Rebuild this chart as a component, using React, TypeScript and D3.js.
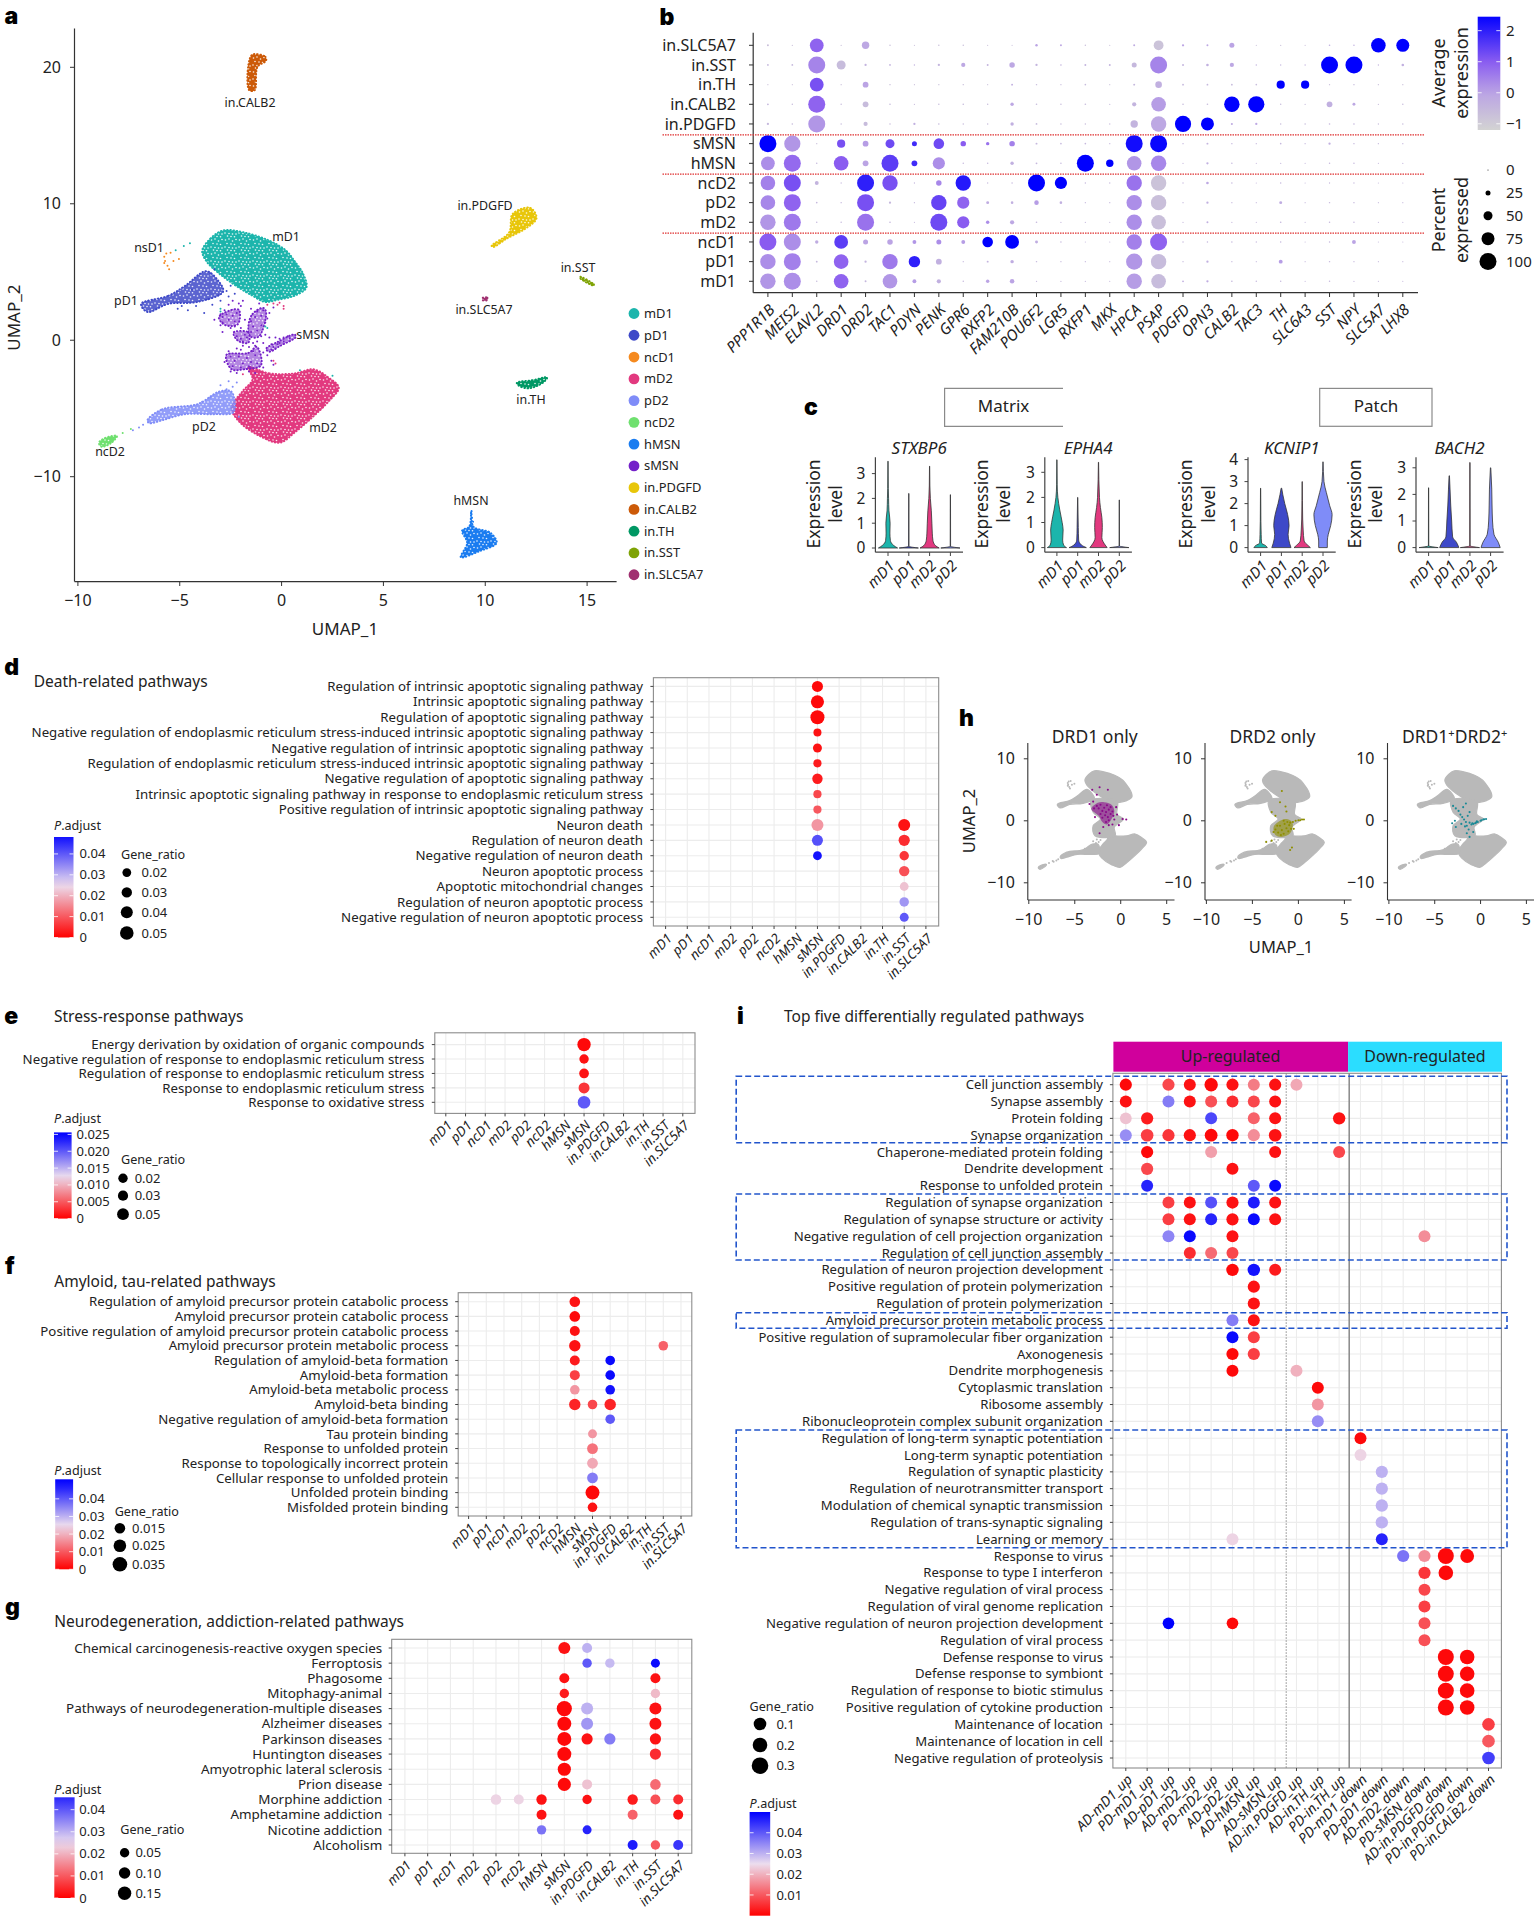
import React from "react";
import * as d3 from "d3";

// ---------- shared categories ----------
const cellTypes = ["mD1", "pD1", "ncD1", "mD2", "pD2", "ncD2", "hMSN", "sMSN", "in.PDGFD", "in.CALB2", "in.TH", "in.SST", "in.SLC5A7"];
const cellColors = ["#1CB5AC", "#3E49C8", "#F58A1F", "#E2397F", "#7F8CF8", "#6FE06F", "#1A7CF0", "#7421C9", "#E8C60A", "#CC5A08", "#009864", "#7FA305", "#A03070"];
const colorOf = (name: string) => cellColors[cellTypes.indexOf(name)];

// ---------- panel a: cluster outlines ----------
const mD1Outline = [[-3.9, 6.56], [-3.49, 7.46], [-2.87, 8.05], [-1.84, 7.9], [-0.6, 7.3], [0.23, 6.56], [0.64, 5.8], [1.05, 4.9], [1.22, 3.86], [0.64, 3.26], [-0.19, 2.96], [-0.8, 2.8], [-1.43, 3.26], [-2.25, 4.0], [-3.08, 4.9], [-3.7, 5.8]];
const mD2Outline = [[-1.63, -1.98], [-0.6, -2.43], [0.64, -2.43], [1.57, -2.13], [2.29, -2.72], [2.81, -3.47], [2.29, -4.52], [1.57, -5.57], [0.64, -6.77], [-0.08, -7.51], [-1.01, -7.07], [-2.05, -6.02], [-2.46, -4.97], [-1.94, -3.77], [-1.43, -2.87]];
const pD1Outline = [[-6.9, 2.66], [-5.56, 3.26], [-4.73, 4.0], [-3.7, 5.06], [-3.08, 4.31], [-2.87, 3.56], [-4.11, 2.81], [-5.56, 2.66], [-6.59, 2.07]];
const pD2Outline = [[-6.59, -5.87], [-5.87, -5.06], [-4.11, -4.67], [-3.08, -3.77], [-2.46, -3.77], [-2.36, -5.27], [-3.29, -5.42], [-4.73, -5.42], [-5.87, -5.87], [-6.49, -6.08]];
const ncD2Outline = [[-8.97, -7.51], [-8.66, -7.16], [-8.08, -7.01], [-8.35, -7.51], [-8.83, -7.81]];
const hMSNOutline = [[9.32, -12.46], [9.42, -13.65], [10.25, -14.1], [10.56, -14.85], [9.73, -15.45], [8.8, -15.9], [9.11, -14.85], [8.86, -13.95], [9.21, -13.65]];
const calb2Outline = [[-1.43, 20.93], [-0.8, 20.78], [-0.76, 20.48], [-1.18, 20.03], [-1.32, 18.32], [-1.59, 18.32], [-1.63, 20.18]];
const pdgfdOutline = [[10.31, 6.92], [11.17, 7.9], [11.34, 9.25], [12.21, 9.7], [12.52, 8.95], [12.0, 8.2], [11.07, 7.46], [10.39, 6.83]];
const sstOutline = [[14.65, 4.65], [15.33, 4.1], [15.33, 4.0], [14.65, 4.55]];
const slc5a7Outline = [[9.88, 3.12], [10.1, 3.12], [10.1, 2.95], [9.88, 2.92]];
const thOutline = [[11.55, -3.11], [12.31, -2.93], [13.04, -2.72], [12.84, -3.11], [12.11, -3.53], [11.63, -3.32]];
const sMSNBlobs = [
  [[-3.08, 1.68], [-2.46, 2.22], [-2.09, 2.22], [-2.15, 1.17], [-2.77, 1.11]],
  [[-1.63, 1.02], [-1.43, 1.92], [-0.91, 2.37], [-0.76, 2.07], [-1.12, 0.27], [-1.53, 0.27]],
  [[-2.36, 0.57], [-1.63, 0.57], [-1.63, -0.18], [-2.15, -0.03]],
  [[-2.71, -1.08], [-1.63, -0.93], [-1.22, -0.48], [-1.01, -1.83], [-1.84, -2.13], [-2.46, -2.13]],
  [[-0.76, -0.63], [-0.19, -0.12], [0.64, 0.42], [0.7, 0.24], [-0.08, -0.42], [-0.6, -0.84]],
];
const sMSNSparse = [[-3.0, 1.9], [-2.9, 1.3], [-2.6, 2.6], [-2.5, 0.9], [-2.3, 1.0], [-2.4, 2.9], [-2.0, 2.5], [-1.9, 2.9], [-1.8, 1.5], [-2.0, 0.9], [-1.7, 0.2], [-1.4, -0.2], [-1.2, -0.1], [-1.0, 0.3], [-0.8, 0.4], [-0.6, 0.2], [-0.3, 0.2], [-0.1, 0.1], [0.1, 0.2], [-0.5, -0.3], [-1.9, -0.4], [-2.0, -0.7], [-1.6, -0.5], [-1.3, -0.4], [-2.2, -0.6], [-2.6, -0.8], [-0.9, -0.9], [-0.7, -1.1], [-0.5, -1.5], [-2.8, -1.6], [-2.5, -2.3], [-2.2, -2.4], [-0.9, -2.0], [-1.6, -2.3], [-1.3, -2.4], [-0.4, -1.8], [-0.8, 1.3], [-0.6, 2.0], [-0.4, 2.4], [-1.1, 2.7], [-2.8, 2.2], [-3.3, 1.5], [-2.9, 0.6], [0.3, 0.3], [-1.0, 1.1], [-0.9, -0.2],
  [-2.9, 1.7], [-2.7, 1.9], [-2.6, 1.5], [-2.4, 1.8], [-2.3, 1.4], [-2.2, 2.0], [-1.5, 1.4], [-1.4, 1.0], [-1.3, 1.7], [-1.2, 2.1], [-1.0, 1.8], [-0.9, 2.2], [-1.2, 0.7], [-1.5, 0.6], [-2.2, 0.3], [-2.0, 0.1], [-1.8, 0.4], [-1.9, -0.1], [-2.5, -1.2], [-2.3, -1.5], [-2.1, -1.2], [-1.9, -1.7], [-1.7, -1.3], [-1.5, -1.6], [-1.3, -1.1], [-1.2, -1.7], [-1.4, -0.8], [-2.4, -1.9], [-2.0, -2.0], [-1.6, -1.9], [-0.5, -0.7], [-0.2, -0.3], [0.1, -0.1], [0.4, 0.15], [-0.4, -0.5], [-0.1, -0.2], [-3.0, 1.1], [-1.5, 2.3], [-2.1, 2.7], [-0.7, 1.6]];
const pD1Sparse = [[-4.6, 2.2], [-4.2, 2.5], [-3.8, 2.0], [-3.4, 2.6], [-3.0, 2.9], [-2.6, 3.2], [-2.3, 3.4], [-3.5, 4.9], [-3.3, 5.2], [-4.4, 3.7], [-5.1, 2.3], [-2.5, 4.0], [-2.7, 3.6], [-3.1, 3.3], [-3.6, 3.0], [-4.9, 2.5]];
const mD2Sparse = [[-0.7, 2.6], [-0.4, 2.7], [-0.1, 2.75], [0.1, 2.5], [0.1, 2.3], [-0.2, 2.6], [-0.4, -1.5], [-0.3, -1.7], [-1.9, -2.5], [-1.2, -2.2]];
const pD2Sparse = [[-2.4, -3.4], [-2.7, -3.6], [-3.0, -3.3], [-3.5, -4.2], [-3.9, -4.5], [-6.8, -6.2], [-7.0, -6.4], [-7.3, -6.6], [-2.2, -3.1], [-2.6, -3.0], [-2.1, -5.6]];
const ncD2Sparse = [[-7.8, -6.8], [-7.4, -6.5]];
const ncD1Sparse = [[-5.76, 6.11], [-5.66, 6.35], [-5.45, 6.41], [-5.72, 5.81], [-5.6, 5.45], [-5.52, 5.21], [-5.31, 5.81], [-5.04, 5.96], [-5.76, 5.66]];
const mD1Sparse = [[-5.2, 6.6], [-4.8, 6.9], [-4.5, 7.1], [-3.0, 2.1], [-0.8, 1.0], [-0.7, 0.9], [0.9, -2.2], [2.5, -2.6], [-3.0, 2.3]];
const hMSNSparse = [[9.3, -12.7], [9.35, -13.0], [9.4, -13.3]];
const centreOutline = [[-3.2, 3.3], [-0.4, 3.1], [-0.4, 1.0], [0.3, 0.3], [-0.7, -1], [-0.6, -2.4], [-2.8, -2.4], [-3, -0.8], [-2.2, 0.3], [-3, 1.4]];
const clusterLabels = ["in.CALB2", "in.PDGFD", "mD1", "nsD1", "pD1", "in.SST", "in.SLC5A7", "sMSN", "in.TH", "pD2", "mD2", "ncD2", "hMSN"];
const umapXTicks = [-10, -5, 0, 5, 10, 15];
const umapYTicks = [-10, 0, 10, 20];

// ---------- panel b ----------
const dotGenes = ["PPP1R1B", "MEIS2", "ELAVL2", "DRD1", "DRD2", "TAC1", "PDYN", "PENK", "GPR6", "RXFP2", "FAM210B", "POU6F2", "LGR5", "RXFP1", "MKX", "HPCA", "PSAP", "PDGFD", "OPN3", "CALB2", "TAC3", "TH", "SLC6A3", "SST", "NPY", "SLC5A7", "LHX8"];
const dotRows = ["in.SLC5A7", "in.SST", "in.TH", "in.CALB2", "in.PDGFD", "sMSN", "hMSN", "ncD2", "pD2", "mD2", "ncD1", "pD1", "mD1"];
const pctExpressed = [
  [6, 2, 80, 2, 40, 3, 1, 3, 3, 1, 1, 9, 6, 3, 1, 6, 55, 8, 6, 25, 1, 2, 1, 4, 3, 85, 75],
  [5, 5, 100, 50, 8, 5, 3, 8, 20, 6, 28, 8, 4, 6, 6, 25, 100, 6, 10, 20, 3, 2, 2, 100, 100, 2, 10],
  [1, 1, 80, 2, 30, 3, 1, 2, 3, 1, 6, 3, 2, 4, 1, 6, 35, 5, 5, 5, 4, 45, 45, 2, 3, 2, 2],
  [5, 3, 100, 3, 30, 4, 2, 3, 4, 3, 15, 4, 3, 4, 2, 20, 85, 4, 4, 90, 95, 3, 2, 30, 12, 2, 3],
  [8, 4, 100, 3, 20, 3, 8, 4, 3, 3, 15, 5, 3, 3, 2, 40, 90, 95, 75, 7, 8, 3, 3, 4, 4, 2, 3],
  [100, 95, 2, 45, 30, 50, 25, 60, 28, 15, 28, 6, 4, 4, 2, 100, 100, 3, 6, 3, 2, 4, 2, 8, 3, 2, 2],
  [80, 100, 3, 85, 30, 100, 30, 70, 3, 3, 15, 5, 3, 100, 40, 85, 90, 2, 8, 3, 1, 2, 1, 3, 3, 1, 2],
  [85, 100, 18, 2, 100, 90, 2, 28, 90, 2, 3, 100, 70, 3, 2, 90, 90, 2, 10, 3, 1, 3, 1, 2, 2, 1, 1],
  [85, 100, 4, 3, 100, 8, 2, 90, 70, 12, 10, 22, 10, 2, 2, 90, 90, 2, 8, 2, 1, 12, 1, 3, 3, 1, 1],
  [90, 100, 3, 3, 100, 4, 1, 100, 70, 15, 20, 4, 2, 2, 1, 90, 85, 2, 6, 2, 1, 4, 1, 3, 3, 1, 1],
  [100, 100, 15, 80, 25, 28, 18, 25, 18, 60, 80, 12, 3, 1, 1, 90, 100, 3, 3, 3, 2, 3, 1, 3, 18, 1, 1],
  [90, 100, 5, 85, 8, 90, 65, 30, 2, 6, 15, 3, 2, 2, 1, 95, 90, 2, 8, 2, 1, 18, 1, 3, 2, 1, 1],
  [90, 100, 3, 85, 6, 85, 18, 20, 3, 15, 22, 2, 2, 2, 1, 90, 85, 5, 8, 4, 3, 3, 1, 3, 2, 1, 1],
];
const avgExpression = [
  [-0.7, -0.7, 0.9, -0.7, -0.1, -0.7, -0.7, -0.7, -0.7, -0.7, -0.7, 0, -0.1, -0.7, -0.7, -0.2, -0.8, 0, -0.1, 0, -0.7, -0.7, -0.7, -0.3, -0.3, 2.5, 2.5],
  [-0.5, -0.5, 0.45, -0.6, -0.4, -0.4, -0.4, -0.4, -0.1, -0.4, -0.1, -0.4, -0.4, -0.4, -0.4, -0.5, 0.45, -0.4, -0.3, -0.1, -0.4, -0.4, -0.4, 2.5, 2.5, -0.4, -0.3],
  [-0.7, -0.7, 1.2, -0.7, 0, -0.7, -0.7, -0.7, -0.7, -0.7, -0.3, -0.6, -0.6, -0.6, -0.7, -0.5, -0.3, -0.5, -0.5, -0.6, -0.6, 2.5, 2.5, -0.7, -0.6, -0.7, -0.7],
  [-0.5, -0.6, 0.9, -0.6, -0.6, -0.6, -0.6, -0.6, -0.6, -0.6, -0.1, -0.6, -0.6, -0.6, -0.6, -0.4, 0.1, -0.6, -0.6, 2.5, 2.5, -0.6, -0.6, -0.3, -0.1, -0.6, -0.6],
  [-0.5, -0.6, 0.2, -0.6, -0.6, -0.6, -0.3, -0.6, -0.6, -0.6, -0.3, -0.6, -0.6, -0.6, -0.6, -0.4, -0.1, 2.5, 2.5, -0.2, -0.1, -0.6, -0.6, -0.5, -0.5, -0.6, -0.6],
  [2.5, 0.2, -0.7, 1.2, 0.1, 1.3, 1.8, 1.3, 1, 0.7, 0.5, -0.5, -0.5, -0.5, -0.5, 2.3, 2.4, -0.5, -0.4, -0.5, -0.5, -0.5, -0.5, -0.3, -0.5, -0.5, -0.5],
  [0.3, 0.8, -0.5, 1, 0, 1.5, 1.8, 0.3, -0.5, -0.5, -0.3, -0.5, -0.5, 2.5, 2.5, 0.2, 0.4, -0.5, -0.3, -0.5, -0.5, -0.5, -0.5, -0.5, -0.5, -0.5, -0.5],
  [0.5, 1.2, -0.4, -0.5, 2, 1.2, -0.5, 0.4, 2.1, -0.5, -0.5, 2.5, 2.5, -0.5, -0.5, 0.7, -0.8, -0.5, -0.1, -0.5, -0.5, -0.5, -0.5, -0.5, -0.5, -0.5, -0.5],
  [0.4, 0.9, -0.5, -0.5, 1.2, -0.5, -0.5, 1.4, 0.9, -0.2, -0.3, 0.1, -0.3, -0.5, -0.5, 0.3, -0.7, -0.5, -0.3, -0.5, -0.5, -0.2, -0.5, -0.5, -0.5, -0.5, -0.5],
  [0.2, 0.6, -0.5, -0.5, 0.7, -0.5, -0.5, 1.3, 1, 0.3, -0.1, -0.5, -0.5, -0.5, -0.5, 0.3, -0.7, -0.5, -0.3, -0.5, -0.5, -0.5, -0.5, -0.5, -0.5, -0.5, -0.5],
  [1, 0.3, -0.2, 1.5, 0, 0, 0.2, 0.3, 0.1, 2.5, 2.5, -0.2, -0.5, -0.5, -0.5, 0.5, 0.9, -0.5, -0.5, -0.5, -0.5, -0.5, -0.5, -0.5, 0, -0.5, -0.5],
  [0.3, 0.5, -0.5, 0.9, -0.4, 0.6, 2, -0.3, -0.5, -0.4, -0.2, -0.5, -0.5, -0.5, -0.5, 0.2, -0.6, -0.5, -0.3, -0.5, -0.5, 0.1, -0.5, -0.5, -0.5, -0.5, -0.5],
  [0.2, 0.3, -0.6, 0.9, -0.5, 0.2, 0.1, -0.3, -0.5, 0, 0, -0.5, -0.5, -0.5, -0.5, 0.1, -0.6, -0.3, -0.2, -0.5, -0.5, -0.5, -0.5, -0.5, -0.5, -0.5, -0.5],
];
const avgTicks = [-1, 0, 1, 2];
const pctTicks = [0, 25, 50, 75, 100];
const rowSeparators = ["in.PDGFD", "hMSN", "mD2"];

// ---------- panel c: violin profiles, [expression, relative half width] ----------
const violinCats = ["mD1", "pD1", "mD2", "pD2"];
const stxbp6Profile = [
  [[0, 1], [0.1, 0.6], [0.3, 0.25], [0.6, 0.2], [1, 0.22], [1.5, 0.1], [2, 0.06], [2.4, 0.03], [3.5, 0.01]],
  [[0, 1], [0.03, 0.4], [0.06, 0.02], [2.2, 0.01]],
  [[0, 1], [0.1, 0.6], [0.3, 0.35], [0.6, 0.28], [1, 0.24], [1.5, 0.18], [2, 0.08], [2.5, 0.03], [3.3, 0.01]],
  [[0, 1], [0.03, 0.4], [0.06, 0.02], [2.15, 0.01]],
];
const epha4Profile = [
  [[0, 1], [0.1, 0.7], [0.3, 0.6], [0.7, 0.65], [1, 0.55], [1.5, 0.3], [2, 0.1], [2.5, 0.03], [3.5, 0.01]],
  [[0, 0.9], [0.1, 0.4], [0.3, 0.1], [0.8, 0.06], [2, 0.01]],
  [[0, 0.9], [0.1, 0.7], [0.4, 0.35], [0.8, 0.4], [1.2, 0.35], [1.6, 0.2], [2, 0.1], [3.4, 0.01]],
  [[0, 1], [0.03, 0.4], [0.06, 0.02], [1.9, 0.01]],
];
const kcnip1Profile = [
  [[0, 0.7], [0.1, 0.5], [0.2, 0.1], [0.6, 0.06], [1.2, 0.03], [2.7, 0.01]],
  [[0, 1], [0.2, 0.85], [0.6, 0.7], [1, 0.8], [1.5, 0.65], [2, 0.35], [2.4, 0.15], [2.7, 0.03]],
  [[0, 0.85], [0.1, 0.6], [0.3, 0.2], [0.8, 0.1], [1.3, 0.05], [3, 0.01]],
  [[0, 0.45], [0.3, 0.45], [0.6, 0.55], [1, 0.8], [1.5, 0.95], [1.9, 0.7], [2.5, 0.35], [3, 0.1], [3.9, 0.01]],
];
const bach2Profile = [
  [[0, 1], [0.03, 0.4], [0.06, 0.02], [2.25, 0.01]],
  [[0, 1], [0.2, 0.75], [0.4, 0.35], [1, 0.25], [1.6, 0.15], [2.2, 0.08], [2.7, 0.02]],
  [[0, 1], [0.03, 0.4], [0.06, 0.02], [3.2, 0.01]],
  [[0, 1], [0.2, 0.8], [0.5, 0.35], [1, 0.2], [1.6, 0.15], [2.2, 0.12], [3, 0.02]],
];

// ---------- panel d ----------
const deathPathways = ["Regulation of intrinsic apoptotic signaling pathway", "Intrinsic apoptotic signaling pathway", "Regulation of apoptotic signaling pathway", "Negative regulation of endoplasmic reticulum stress-induced intrinsic apoptotic signaling pathway", "Negative regulation of intrinsic apoptotic signaling pathway", "Regulation of endoplasmic reticulum stress-induced intrinsic apoptotic signaling pathway", "Negative regulation of apoptotic signaling pathway", "Intrinsic apoptotic signaling pathway in response to endoplasmic reticulum stress", "Positive regulation of intrinsic apoptotic signaling pathway", "Neuron death", "Regulation of neuron death", "Negative regulation of neuron death", "Neuron apoptotic process", "Apoptotic mitochondrial changes", "Regulation of neuron apoptotic process", "Negative regulation of neuron apoptotic process"];
// [pathway index, cell type, gene ratio, adjusted p]
const deathDots: [number, string, number, number][] = [
  [0, "sMSN", 0.034, 0.001], [1, "sMSN", 0.047, 0.001], [2, "sMSN", 0.053, 0.001], [3, "sMSN", 0.015, 0.002], [4, "sMSN", 0.021, 0.002], [5, "sMSN", 0.016, 0.003], [6, "sMSN", 0.03, 0.003], [7, "sMSN", 0.016, 0.008], [8, "sMSN", 0.016, 0.01], [9, "sMSN", 0.04, 0.017], [10, "sMSN", 0.034, 0.041], [11, "sMSN", 0.02, 0.048],
  [9, "in.SST", 0.04, 0.002], [10, "in.SST", 0.035, 0.005], [11, "in.SST", 0.024, 0.006], [12, "in.SST", 0.03, 0.009], [13, "in.SST", 0.02, 0.022], [14, "in.SST", 0.024, 0.033], [15, "in.SST", 0.021, 0.04],
];

// ---------- panel e ----------
const stressPathways = ["Energy derivation by oxidation of organic compounds", "Negative regulation of response to endoplasmic reticulum stress", "Regulation of response to endoplasmic reticulum stress", "Response to endoplasmic reticulum stress", "Response to oxidative stress"];
const stressDots: [number, string, number, number][] = [
  [0, "sMSN", 0.07, 0.0005], [1, "sMSN", 0.02, 0.001], [2, "sMSN", 0.024, 0.001], [3, "sMSN", 0.04, 0.003], [4, "sMSN", 0.06, 0.02],
];

// ---------- panel f ----------
const amyloidPathways = ["Regulation of amyloid precursor protein catabolic process", "Amyloid precursor protein catabolic process", "Positive regulation of amyloid precursor protein catabolic process", "Amyloid precursor protein metabolic process", "Regulation of amyloid-beta formation", "Amyloid-beta formation", "Amyloid-beta metabolic process", "Amyloid-beta binding", "Negative regulation of amyloid-beta formation", "Tau protein binding", "Response to unfolded protein", "Response to topologically incorrect protein", "Cellular response to unfolded protein", "Unfolded protein binding", "Misfolded protein binding"];
const amyloidDots: [number, string, number, number][] = [
  [0, "hMSN", 0.015, 0.002], [1, "hMSN", 0.015, 0.001], [2, "hMSN", 0.012, 0.002], [3, "hMSN", 0.019, 0.002], [4, "hMSN", 0.012, 0.003], [5, "hMSN", 0.012, 0.007], [6, "hMSN", 0.01, 0.017], [7, "hMSN", 0.019, 0.004],
  [7, "sMSN", 0.01, 0.008], [9, "sMSN", 0.007, 0.017], [10, "sMSN", 0.016, 0.013], [11, "sMSN", 0.016, 0.019], [12, "sMSN", 0.016, 0.036], [13, "sMSN", 0.032, 0.001], [14, "sMSN", 0.01, 0.002],
  [4, "in.PDGFD", 0.01, 0.049], [5, "in.PDGFD", 0.01, 0.049], [6, "in.PDGFD", 0.01, 0.048], [7, "in.PDGFD", 0.019, 0.004], [8, "in.PDGFD", 0.01, 0.04],
  [3, "in.SST", 0.01, 0.011],
];

// ---------- panel g ----------
const neuroPathways = ["Chemical carcinogenesis-reactive oxygen species", "Ferroptosis", "Phagosome", "Mitophagy-animal", "Pathways of neurodegeneration-multiple diseases", "Alzheimer diseases", "Parkinson diseases", "Huntington diseases", "Amyotrophic lateral sclerosis", "Prion disease", "Morphine addiction", "Amphetamine addiction", "Nicotine addiction", "Alcoholism"];
const neuroDots: [number, string, number, number][] = [
  [0, "sMSN", 0.115, 0.002], [0, "in.PDGFD", 0.065, 0.03],
  [1, "in.PDGFD", 0.05, 0.04], [1, "in.CALB2", 0.05, 0.029], [1, "in.SST", 0.04, 0.049],
  [2, "sMSN", 0.065, 0.002], [2, "in.SST", 0.065, 0.002],
  [3, "sMSN", 0.05, 0.003], [3, "in.SST", 0.05, 0.021],
  [4, "sMSN", 0.195, 0.001], [4, "in.PDGFD", 0.115, 0.03], [4, "in.SST", 0.115, 0.002],
  [5, "sMSN", 0.165, 0.001], [5, "in.PDGFD", 0.115, 0.033], [5, "in.SST", 0.115, 0.002],
  [6, "sMSN", 0.165, 0.001], [6, "in.PDGFD", 0.095, 0.002], [6, "in.CALB2", 0.095, 0.036], [6, "in.SST", 0.095, 0.002],
  [7, "sMSN", 0.165, 0.001], [7, "in.SST", 0.095, 0.005],
  [8, "sMSN", 0.145, 0.001],
  [9, "sMSN", 0.145, 0.001], [9, "in.PDGFD", 0.065, 0.022], [9, "in.SST", 0.08, 0.012],
  [10, "pD2", 0.08, 0.024], [10, "ncD2", 0.065, 0.024], [10, "hMSN", 0.075, 0.002], [10, "in.PDGFD", 0.05, 0.002], [10, "in.TH", 0.075, 0.003], [10, "in.SST", 0.065, 0.009], [10, "in.SLC5A7", 0.065, 0.005],
  [11, "hMSN", 0.065, 0.002], [11, "in.TH", 0.065, 0.011], [11, "in.SLC5A7", 0.065, 0.002],
  [12, "hMSN", 0.05, 0.037], [12, "in.PDGFD", 0.04, 0.046],
  [13, "in.TH", 0.065, 0.047], [13, "in.SST", 0.05, 0.01], [13, "in.SLC5A7", 0.065, 0.044],
];

// ---------- panel h: points on top of the grey map ----------
const drd1Blob = [[-3.2, 1.9], [-2.5, 2.9], [-1.8, 3.0], [-1.0, 2.6], [-0.7, 1.6], [-1.0, 0.3], [-1.5, -0.6], [-2.0, -0.2], [-2.4, 0.8]];
const drd1Points = [[-3.1, 5], [-2.3, 5.4], [-1.4, 5], [-2.6, 4.2], [-0.7, 0.2], [0.6, 0.2], [-0.2, -0.7], [-1.3, -0.7], [-2.3, -2], [-3.4, 2.7], [-3.0, 3.1], [-0.5, 2.2], [-0.4, 1.0], [0.2, 0.3], [-0.9, -0.6], [-1.9, -1.0], [-2.8, 0.6],
  [-2.9, 2.0], [-2.6, 2.4], [-2.4, 2.0], [-2.2, 2.6], [-2.0, 1.6], [-1.8, 2.1], [-1.6, 1.4], [-1.5, 2.5], [-1.3, 1.8], [-1.1, 2.2], [-1.1, 1.1], [-1.4, 0.6], [-1.7, 0.9], [-2.2, 1.1], [-0.9, 1.5], [-1.6, -0.2], [-1.3, 0.1], [-0.8, 0.8], [-2.0, 0.5]];
const drd2Blob = [[-2.7, -1.0], [-2.2, -0.2], [-1.5, 0.3], [-0.9, 0.1], [-0.6, -0.6], [-0.9, -2.0], [-1.8, -2.6], [-2.5, -2.3]];
const drd2Points = [[-0.9, -0.3], [-0.6, -0.2], [-0.3, 0], [0, 0.1], [0.2, 0.1], [0.4, 0.2], [0.6, 0.2], [-1.8, 4.8], [-2, 3], [-2.9, 1.4], [-2.5, 0.8], [-1.3, 1.5], [-3.5, -3.4], [-0.9, -4.7], [-0.7, -4.3], [-2.9, -3.2], [-0.5, -1.3], [-1.4, 2.3],
  [-2.5, -1.4], [-2.2, -1.9], [-2.0, -0.8], [-1.8, -1.5], [-1.6, -2.1], [-1.5, -0.5], [-1.3, -1.2], [-1.1, -1.7], [-1.0, -0.7], [-2.3, -0.8], [-1.9, -2.3], [-1.6, 0], [-1.2, -0.2], [-0.8, -1.3], [-2.7, -1.8]];
const bothPoints = [[-3, 2.4], [-2.7, 2.0], [-2.4, 1.6], [-2.2, 1.0], [-2.0, 0.6], [-1.8, 0.2], [-1.6, -0.2], [-1.5, -0.8], [-1.3, -1.4], [-1.5, -2.0], [-1.0, -0.6], [-0.6, -0.4], [-0.3, -0.2], [0, 0], [0.3, 0.2], [0.6, 0.3], [-1.2, -0.3], [-0.8, -0.5], [-0.5, -0.3], [-2.8, 0], [-3.1, -0.4], [-2.7, -1.0], [-1.2, 1.4], [-1.6, 2.8], [-1.9, 2.2], [-1.4, 0.8], [-1.7, -0.9], [-1.2, -2.6], [-0.8, -1.8], [-2.1, -0.5], [-0.9, -0.4], [-0.4, -0.1], [0.1, 0.1], [0.4, 0.25]];
const hXTicks = [-10, -5, 0, 5];
const hYTicks = [-10, 0, 10];

// ---------- panel i ----------
const diffPathways = ["Cell junction assembly", "Synapse assembly", "Protein folding", "Synapse organization", "Chaperone-mediated protein folding", "Dendrite development", "Response to unfolded protein", "Regulation of synapse organization", "Regulation of synapse structure or activity", "Negative regulation of cell projection organization", "Regulation of cell junction assembly", "Regulation of neuron projection development", "Positive regulation of protein polymerization", "Regulation of protein polymerization", "Amyloid precursor protein metabolic process", "Positive regulation of supramolecular fiber organization", "Axonogenesis", "Dendrite morphogenesis", "Cytoplasmic translation", "Ribosome assembly", "Ribonucleoprotein complex subunit organization", "Regulation of long-term synaptic potentiation", "Long-term synaptic potentiation", "Regulation of synaptic plasticity", "Regulation of neurotransmitter transport", "Modulation of chemical synaptic transmission", "Regulation of trans-synaptic signaling", "Learning or memory", "Response to virus", "Response to type I interferon", "Negative regulation of viral process", "Regulation of viral genome replication", "Negative regulation of neuron projection development", "Regulation of viral process", "Defense response to virus", "Defense response to symbiont", "Regulation of response to biotic stimulus", "Positive regulation of cytokine production", "Maintenance of location", "Maintenance of location in cell", "Negative regulation of proteolysis"];
const diffGroups = ["AD-mD1_up", "PD-mD1_up", "AD-pD1_up", "AD-mD2_up", "PD-mD2_up", "AD-pD2_up", "AD-hMSN_up", "AD-sMSN_up", "AD-in.PDGFD_up", "AD-in.TH_up", "PD-in.TH_up", "PD-mD1_down", "PD-pD1_down", "AD-mD2_down", "PD-sMSN_down", "AD-in.PDGFD_down", "PD-in.PDGFD_down", "PD-in.CALB2_down"];
// [pathway index, group index, gene ratio, adjusted p]
const diffDotsRaw = [
  [0, 0, 0.08, 0.001], [0, 2, 0.08, 0.008], [0, 3, 0.07, 0.002], [0, 4, 0.14, 0.001], [0, 5, 0.08, 0.002], [0, 6, 0.07, 0.014], [0, 7, 0.08, 0.002], [0, 8, 0.07, 0.019],
  [1, 0, 0.07, 0.002], [1, 2, 0.07, 0.036], [1, 3, 0.07, 0.002], [1, 4, 0.07, 0.009], [1, 5, 0.07, 0.005], [1, 6, 0.07, 0.008], [1, 7, 0.07, 0.002],
  [2, 0, 0.06, 0.022], [2, 1, 0.08, 0.003], [2, 4, 0.07, 0.042], [2, 6, 0.07, 0.011], [2, 7, 0.07, 0.002], [2, 10, 0.09, 0.002],
  [3, 0, 0.07, 0.034], [3, 1, 0.1, 0.007], [3, 2, 0.08, 0.006], [3, 3, 0.08, 0.002], [3, 4, 0.11, 0.001], [3, 5, 0.09, 0.001], [3, 6, 0.08, 0.016], [3, 7, 0.1, 0.002],
  [4, 1, 0.08, 0.001], [4, 4, 0.07, 0.018], [4, 7, 0.07, 0.002], [4, 10, 0.07, 0.008],
  [5, 1, 0.08, 0.008], [5, 5, 0.07, 0.002],
  [6, 1, 0.07, 0.046], [6, 6, 0.07, 0.04], [6, 7, 0.07, 0.049],
  [7, 2, 0.07, 0.007], [7, 3, 0.07, 0.002], [7, 4, 0.07, 0.041], [7, 5, 0.08, 0.002], [7, 6, 0.07, 0.047], [7, 7, 0.07, 0.002],
  [8, 2, 0.07, 0.007], [8, 3, 0.07, 0.002], [8, 4, 0.07, 0.046], [8, 5, 0.08, 0.002], [8, 6, 0.07, 0.049], [8, 7, 0.07, 0.002],
  [9, 2, 0.07, 0.035], [9, 3, 0.07, 0.049], [9, 5, 0.07, 0.002], [9, 14, 0.07, 0.016],
  [10, 3, 0.07, 0.005], [10, 4, 0.07, 0.012], [10, 5, 0.07, 0.008],
  [11, 5, 0.09, 0.001], [11, 6, 0.09, 0.048], [11, 7, 0.07, 0.003],
  [12, 6, 0.08, 0.002], [13, 6, 0.08, 0.002],
  [14, 5, 0.07, 0.036], [14, 6, 0.07, 0.002],
  [15, 5, 0.07, 0.049], [15, 6, 0.07, 0.007],
  [16, 5, 0.08, 0.001], [16, 6, 0.08, 0.007],
  [17, 5, 0.07, 0.001], [17, 8, 0.07, 0.02],
  [18, 9, 0.07, 0.001], [19, 9, 0.07, 0.017], [20, 9, 0.07, 0.034],
  [21, 11, 0.07, 0.001], [22, 11, 0.07, 0.024],
  [23, 12, 0.08, 0.03], [24, 12, 0.08, 0.03], [25, 12, 0.09, 0.03], [26, 12, 0.09, 0.03],
  [27, 5, 0.07, 0.024], [27, 12, 0.07, 0.046],
  [28, 13, 0.08, 0.037], [28, 14, 0.08, 0.016], [28, 15, 0.27, 0.001], [28, 16, 0.16, 0.001],
  [29, 14, 0.08, 0.006], [29, 15, 0.2, 0.001],
  [30, 14, 0.07, 0.008], [31, 14, 0.07, 0.007],
  [32, 2, 0.05, 0.05], [32, 5, 0.05, 0.001], [32, 14, 0.07, 0.009],
  [33, 14, 0.07, 0.009],
  [34, 15, 0.27, 0.001], [34, 16, 0.2, 0.001], [35, 15, 0.27, 0.001], [35, 16, 0.2, 0.001], [36, 15, 0.27, 0.001], [36, 16, 0.2, 0.001], [37, 15, 0.27, 0.001], [37, 16, 0.2, 0.001],
  [38, 17, 0.1, 0.007], [39, 17, 0.1, 0.01], [40, 17, 0.1, 0.043],
];

// ---------- helpers ----------
const FONT = "'Noto Sans', Roboto, sans-serif";
const INK = "#222";
const px = (n: number) => +n.toFixed(2);

const T = ({ x, y, a = "start", s = 13, rot, it, w, fill = INK, children }: any) => (
  <text
    transform={rot ? `translate(${px(x)},${px(y)}) rotate(${rot})` : undefined}
    x={rot ? 0 : px(x)}
    y={rot ? 0 : px(y)}
    dy="0.35em"
    textAnchor={a}
    fontSize={s}
    fontStyle={it ? "italic" : undefined}
    fontWeight={w}
    fill={fill}
  >
    {children}
  </text>
);

const PanelLetter = ({ x, y, children }: any) => (
  <text x={x} y={y} fontFamily="Inter, sans-serif" fontWeight={900} fontSize={23} fill="#000">
    {children}
  </text>
);

const blobPath = d3.line().curve(d3.curveCatmullRomClosed.alpha(0.5));

const pAdjustColor = (pMax: number) =>
  d3.scaleLinear<string>().domain([0, pMax / 2, pMax]).range(["#ff0000", "#ECDDEE", "#0000ff"]).clamp(true);

const ColorBar = ({ id, x, w, top, bottom, scale, domainMax, domainMin = 0, ticks, labelX, fmt, s = 13 }: any) => {
  const y = d3.scaleLinear().domain([domainMin, domainMax]).range([bottom, top]);
  const stops = d3.range(0, 1.0001, 0.1).map((t) => domainMin + t * (domainMax - domainMin));
  return (
    <g>
      <defs>
        <linearGradient id={id} x1="0" y1="1" x2="0" y2="0">
          {stops.map((v, i) => (
            <stop key={i} offset={`${i * 10}%`} stopColor={scale(v)} />
          ))}
        </linearGradient>
      </defs>
      <rect x={x} y={top} width={w} height={bottom - top} fill={`url(#${id})`} />
      {ticks.map((t: number) => (
        <g key={t}>
          <line x1={x} x2={x + 4} y1={y(t)} y2={y(t)} stroke="#fff" strokeWidth={0.8} />
          <line x1={x + w - 4} x2={x + w} y1={y(t)} y2={y(t)} stroke="#fff" strokeWidth={0.8} />
          <T x={labelX} y={y(t)} s={s}>{fmt ? fmt(t) : String(t)}</T>
        </g>
      ))}
    </g>
  );
};

const PADJ_TITLE = ({ x, y }: any) => (
  <text x={x} y={y} dy="0.35em" fontSize={12.6} fill={INK}>
    <tspan fontStyle="italic">P</tspan>.adjust
  </text>
);

const RatioLegend = ({ titleX, titleY, dotX, labelX, items, ys, rScale, digits }: any) => (
  <g>
    <T x={titleX} y={titleY} s={12.6}>Gene_ratio</T>
    {items.map((v: number, i: number) => (
      <g key={v}>
        <circle cx={dotX} cy={ys[i]} r={rScale(v)} fill="#000" />
        <T x={labelX} y={ys[i]} s={13}>{v.toFixed(digits)}</T>
      </g>
    ))}
  </g>
);

// enrichment dot plot shared by d, e, f, g and i
const EnrichPlot = ({ frame, colRange, rowRange, labelX, rows, cols, dots, color, rScale, labelSize = 13.25, tickSize = 13.4, tickEndY }: any) => {
  const x = d3.scalePoint<string>().domain(cols).range(colRange);
  const y = d3.scalePoint<number>().domain(rows.map((_: string, i: number) => i)).range(rowRange);
  return (
    <g>
      <rect x={frame.x0} y={frame.y0} width={frame.x1 - frame.x0} height={frame.y1 - frame.y0} fill="#fff" />
      {cols.map((c: string) => (
        <line key={c} x1={x(c)} x2={x(c)} y1={frame.y0} y2={frame.y1} stroke="#ececec" strokeWidth={1.1} />
      ))}
      {rows.map((_: string, i: number) => (
        <line key={i} x1={frame.x0} x2={frame.x1} y1={y(i)} y2={y(i)} stroke="#ececec" strokeWidth={1.1} />
      ))}
      <rect x={frame.x0} y={frame.y0} width={frame.x1 - frame.x0} height={frame.y1 - frame.y0} fill="none" stroke="#8c8c8c" strokeWidth={1.1} />
      {rows.map((r: string, i: number) => (
        <g key={r + i}>
          <line x1={frame.x0 - 3} x2={frame.x0} y1={y(i)} y2={y(i)} stroke="#444" />
          <T x={labelX} y={y(i)} a="end" s={labelSize}>{r}</T>
        </g>
      ))}
      {cols.map((c: string) => (
        <g key={c}>
          <line x1={x(c)} x2={x(c)} y1={frame.y1} y2={frame.y1 + 3} stroke="#444" />
          <T x={x(c)! + 4} y={tickEndY} a="end" s={tickSize} rot={-45} it>{c}</T>
        </g>
      ))}
      {dots.map((d: any, i: number) => (
        <circle key={i} cx={x(d[1])} cy={y(d[0])} r={rScale(d[2])} fill={color(d[3])} />
      ))}
    </g>
  );
};

// ---------- panel a ----------
const stippleIds = cellColors.map((_, i) => `stipple${i}`);
const SPECKS = [[1.5, 2], [5, 1], [8.5, 3], [12, 1.5], [3, 5.5], [7, 6], [10.5, 6.5], [1, 9], [5, 9.5], [8.5, 10], [12, 10], [3.5, 12], [7, 12.5], [10.5, 12.8]];

const UmapCluster = ({ x, y, outline, name, opacity = 1 }: any) => {
  const i = cellTypes.indexOf(name);
  const d = blobPath(outline.map((p: number[]) => [x(p[0]), y(p[1])]) as any)!;
  return (
    <g>
      <path d={d} fill={`url(#${stippleIds[i]})`} fillOpacity={opacity} />
      <path d={d} fill="none" stroke={cellColors[i]} strokeWidth={1.9} strokeDasharray="0.5 2.7" strokeLinecap="round" />
    </g>
  );
};

const Sparse = ({ x, y, points, fill, r = 1 }: any) => (
  <g fill={fill}>
    {points.map((p: number[], i: number) => (
      <circle key={i} cx={x(p[0])} cy={y(p[1])} r={r} />
    ))}
  </g>
);

const labelSpots: Record<string, [number, number]> = {
  "in.CALB2": [250, 103], "in.PDGFD": [485, 206], mD1: [286, 237], nsD1: [149, 248], pD1: [126, 301], "in.SST": [578, 268], "in.SLC5A7": [484, 310], sMSN: [313, 335], "in.TH": [531, 400], pD2: [204, 427], mD2: [323, 428], ncD2: [110, 452], hMSN: [471, 501],
};

const PanelA = () => {
  const x = d3.scaleLinear().domain([-10, 15]).range([77.9, 587.1]);
  const y = d3.scaleLinear().domain([-10, 20]).range([476.7, 67.3]);
  return (
    <g>
      <defs>
        {cellColors.map((c, i) => (
          <pattern key={c} id={stippleIds[i]} width={14} height={14} patternUnits="userSpaceOnUse">
            <rect width={14} height={14} fill={c} />
            {SPECKS.map((s, k) => (
              <circle key={k} cx={s[0]} cy={s[1]} r={0.8} fill="#fff" fillOpacity={0.9} />
            ))}
          </pattern>
        ))}
      </defs>
      <UmapCluster x={x} y={y} outline={mD1Outline} name="mD1" />
      <UmapCluster x={x} y={y} outline={mD2Outline} name="mD2" />
      <UmapCluster x={x} y={y} outline={pD1Outline} name="pD1" opacity={0.85} />
      <UmapCluster x={x} y={y} outline={pD2Outline} name="pD2" opacity={0.85} />
      <UmapCluster x={x} y={y} outline={ncD2Outline} name="ncD2" />
      <UmapCluster x={x} y={y} outline={hMSNOutline} name="hMSN" />
      <UmapCluster x={x} y={y} outline={calb2Outline} name="in.CALB2" />
      <UmapCluster x={x} y={y} outline={pdgfdOutline} name="in.PDGFD" />
      <UmapCluster x={x} y={y} outline={sstOutline} name="in.SST" />
      <UmapCluster x={x} y={y} outline={slc5a7Outline} name="in.SLC5A7" />
      <UmapCluster x={x} y={y} outline={thOutline} name="in.TH" />
      {sMSNBlobs.map((b, i) => (
        <UmapCluster key={i} x={x} y={y} outline={b} name="sMSN" opacity={0.55} />
      ))}
      <Sparse x={x} y={y} points={sMSNSparse} fill={colorOf("sMSN")} />
      <Sparse x={x} y={y} points={pD1Sparse} fill={colorOf("pD1")} />
      <Sparse x={x} y={y} points={mD2Sparse} fill={colorOf("mD2")} />
      <Sparse x={x} y={y} points={pD2Sparse} fill={colorOf("pD2")} />
      <Sparse x={x} y={y} points={ncD2Sparse} fill={colorOf("ncD2")} />
      <Sparse x={x} y={y} points={ncD1Sparse} fill={colorOf("ncD1")} />
      <Sparse x={x} y={y} points={mD1Sparse} fill={colorOf("mD1")} />
      <Sparse x={x} y={y} points={hMSNSparse} fill={colorOf("hMSN")} />
      <line x1={74.5} x2={74.5} y1={28.6} y2={581.6} stroke="#333" strokeWidth={1.2} />
      <line x1={74.5} x2={616.6} y1={581.6} y2={581.6} stroke="#333" strokeWidth={1.2} />
      {umapXTicks.map((t) => (
        <g key={t}>
          <line x1={x(t)} x2={x(t)} y1={581.6} y2={586} stroke="#333" />
          <T x={x(t)} y={600.8} a="middle" s={16}>{String(t).replace("-", "−")}</T>
        </g>
      ))}
      {umapYTicks.map((t) => (
        <g key={t}>
          <line x1={70} x2={74.5} y1={y(t)} y2={y(t)} stroke="#333" />
          <T x={61} y={y(t)} a="end" s={16}>{String(t).replace("-", "−")}</T>
        </g>
      ))}
      <T x={345} y={628.6} a="middle" s={17}>UMAP_1</T>
      <T x={14.3} y={317.6} a="middle" s={17} rot={-90}>UMAP_2</T>
      {clusterLabels.map((l) => (
        <T key={l} x={labelSpots[l][0]} y={labelSpots[l][1]} a="middle" s={12.4}>{l}</T>
      ))}
      {cellTypes.map((c, i) => (
        <g key={c}>
          <circle cx={634} cy={313.5 + i * 21.77} r={5.4} fill={cellColors[i]} />
          <T x={644} y={313.5 + i * 21.77} s={12.9}>{c}</T>
        </g>
      ))}
    </g>
  );
};

// ---------- panel b ----------
const PanelB = () => {
  const x = d3.scalePoint<string>().domain(dotGenes).range([767.9, 1402.8]);
  const y = d3.scalePoint<string>().domain(dotRows).range([45.3, 281.3]);
  const r = d3.scaleLinear().domain([0, 100]).range([0.5, 8.5]);
  const color = d3.scaleLinear<string>().domain([-1.2, 0, 1, 2.5]).range(["#D3D3D3", "#BBA4E4", "#8A5CF0", "#0000FF"]).clamp(true);
  const step = y.step();
  return (
    <g>
      <line x1={753.2} x2={753.2} y1={32.7} y2={292.7} stroke="#333" strokeWidth={1.2} />
      <line x1={753.2} x2={1418} y1={292.7} y2={292.7} stroke="#333" strokeWidth={1.2} />
      {dotRows.map((row) => (
        <g key={row}>
          <line x1={749} x2={753.2} y1={y(row)} y2={y(row)} stroke="#333" />
          <T x={736} y={y(row)} a="end" s={16}>{row}</T>
        </g>
      ))}
      {dotGenes.map((g) => (
        <g key={g}>
          <line x1={x(g)} x2={x(g)} y1={292.7} y2={297} stroke="#333" />
          <T x={x(g)! + 4} y={307} a="end" s={15.3} rot={-45} it>{g}</T>
        </g>
      ))}
      {dotRows.map((row, i) =>
        dotGenes.map((g, j) => (
          <circle key={g} cx={x(g)} cy={y(row)} r={r(pctExpressed[i][j])} fill={color(avgExpression[i][j])} />
        ))
      )}
      {rowSeparators.map((row) => (
        <line key={row} x1={662.5} x2={1424} y1={y(row)! + step / 2 + 1} y2={y(row)! + step / 2 + 1} stroke="#E03030" strokeWidth={1.2} strokeDasharray="1.5 1" />
      ))}
      <T x={1439} y={73} a="middle" s={18} rot={-90}>Average</T>
      <T x={1462} y={73} a="middle" s={18} rot={-90}>expression</T>
      <ColorBar id="avgExprBar" x={1477.7} w={22.6} top={16.7} bottom={130} scale={color} domainMin={-1.2} domainMax={2.45} ticks={avgTicks} labelX={1506} s={15} fmt={(t: number) => String(t).replace("-", "−")} />
      <T x={1439} y={220} a="middle" s={18} rot={-90}>Percent</T>
      <T x={1462} y={220} a="middle" s={18} rot={-90}>expressed</T>
      {pctTicks.map((t, i) => (
        <g key={t}>
          <circle cx={1488} cy={170 + i * 22.9} r={r(t)} fill="#000" />
          <T x={1506} y={170 + i * 22.9} s={15}>{String(t)}</T>
        </g>
      ))}
    </g>
  );
};

// ---------- panel c ----------
const violinArea = (y: any, cx: number) =>
  d3.area<number[]>().curve(d3.curveMonotoneY).y((d) => y(d[0])).x0((d) => cx - 9.6 * d[1]).x1((d) => cx + 9.6 * d[1]);

const Violin = ({ title, profile, axisX, axisEnd, zeroY, oneY, cats, ticks, labelXs }: any) => {
  const y = d3.scaleLinear().domain([0, 1]).range([zeroY, oneY]);
  const x = d3.scalePoint<string>().domain(violinCats).range(cats);
  return (
    <g>
      <T x={labelXs[0]} y={504} a="middle" s={17.5} rot={-90}>Expression</T>
      <T x={labelXs[1]} y={504} a="middle" s={17.5} rot={-90}>level</T>
      <T x={(x("mD1")! + x("pD2")!) / 2} y={448} a="middle" s={17} it>{title}</T>
      {violinCats.map((c, i) => (
        <path key={c} d={violinArea(y, x(c)!)(profile[i])!} fill={colorOf(c)} stroke="#333" strokeWidth={0.8} />
      ))}
      <line x1={axisX} x2={axisX} y1={457.3} y2={552.2} stroke="#444" strokeWidth={1.2} />
      <line x1={axisX} x2={axisEnd} y1={552.2} y2={552.2} stroke="#444" strokeWidth={1.2} />
      {ticks.map((t: number) => (
        <g key={t}>
          <line x1={axisX - 3.5} x2={axisX} y1={y(t)} y2={y(t)} stroke="#444" />
          <T x={axisX - 10} y={y(t)} a="end" s={15.5}>{String(t)}</T>
        </g>
      ))}
      {violinCats.map((c) => (
        <g key={c}>
          <line x1={x(c)} x2={x(c)} y1={552.2} y2={556} stroke="#444" />
          <T x={x(c)! + 4} y={563} a="end" s={15} rot={-45} it>{c}</T>
        </g>
      ))}
    </g>
  );
};

const PanelC = () => (
  <g>
    <path d="M1063,388.4 H944.6 V426.3 H1063" fill="none" stroke="#8a8a8a" strokeWidth={1.2} />
    <T x={1003.6} y={406} a="middle" s={17}>Matrix</T>
    <rect x={1319.7} y={388.4} width={112.3} height={37.9} fill="none" stroke="#8a8a8a" strokeWidth={1.2} />
    <T x={1376} y={406} a="middle" s={17}>Patch</T>
    <Violin title="STXBP6" profile={stxbp6Profile} axisX={875.4} axisEnd={963} zeroY={548} oneY={523.2} cats={[888, 950.4]} ticks={[0, 1, 2, 3]} labelXs={[813.9, 835.7]} />
    <Violin title="EPHA4" profile={epha4Profile} axisX={1044.8} axisEnd={1131.9} zeroY={547.6} oneY={522.5} cats={[1056.9, 1119.3]} ticks={[0, 1, 2, 3]} labelXs={[982, 1003.6]} />
    <Violin title="KCNIP1" profile={kcnip1Profile} axisX={1248} axisEnd={1335.7} zeroY={547.6} oneY={525.6} cats={[1260.6, 1323]} ticks={[0, 1, 2, 3, 4]} labelXs={[1185.6, 1208.4]} />
    <Violin title="BACH2" profile={bach2Profile} axisX={1416} axisEnd={1503.6} zeroY={547.6} oneY={521} cats={[1428.6, 1490.6]} ticks={[0, 1, 2, 3]} labelXs={[1354.5, 1376.3]} />
  </g>
);

// ---------- panels d to g ----------
const PanelD = () => {
  const color = pAdjustColor(0.05);
  const r = d3.scaleLinear().domain([0.02, 0.05]).range([4.4, 6.8]);
  return (
    <g>
      <T x={33.7} y={681.6} s={15.5}>Death-related pathways</T>
      <EnrichPlot frame={{ x0: 653.4, x1: 938.7, y0: 677.7, y1: 926 }} colRange={[665.6, 925.9]} rowRange={[686.4, 917.3]} labelX={643} rows={deathPathways} cols={cellTypes} dots={deathDots} color={color} rScale={r} tickEndY={936} />
      <PADJ_TITLE x={54} y={826} />
      <ColorBar id="dBar" x={54} w={19.5} top={837} bottom={937.5} scale={color} domainMax={0.0481} ticks={[0, 0.01, 0.02, 0.03, 0.04]} labelX={79.6} />
      <RatioLegend titleX={121} titleY={854.8} dotX={126.8} labelX={141.5} items={[0.02, 0.03, 0.04, 0.05]} ys={[872.6, 892.4, 912.2, 933]} rScale={r} digits={2} />
    </g>
  );
};

const PanelE = () => {
  const color = pAdjustColor(0.025);
  const r = d3.scaleLinear().domain([0.02, 0.05]).range([4.7, 5.9]);
  return (
    <g>
      <T x={54} y={1016.5} s={15.5}>Stress-response pathways</T>
      <EnrichPlot frame={{ x0: 434.8, x1: 695, y0: 1032.8, y1: 1113.4 }} colRange={[445.8, 682.8]} rowRange={[1044.6, 1102.3]} labelX={424.4} rows={stressPathways} cols={cellTypes} dots={stressDots} color={color} rScale={r} tickEndY={1123} />
      <PADJ_TITLE x={54} y={1118.6} />
      <ColorBar id="eBar" x={54} w={17.6} top={1132.4} bottom={1218.6} scale={color} domainMax={0.0256} ticks={[0, 0.005, 0.01, 0.015, 0.02, 0.025]} fmt={(t: number) => (t === 0 ? "0" : t.toFixed(3))} labelX={76.5} />
      <RatioLegend titleX={121} titleY={1159.3} dotX={123} labelX={134.7} items={[0.02, 0.03, 0.05]} ys={[1178.3, 1195.7, 1214.2]} rScale={r} digits={2} />
    </g>
  );
};

const PanelF = () => {
  const color = pAdjustColor(0.05);
  const r = d3.scaleLinear().domain([0.015, 0.035]).range([5.3, 7.3]);
  return (
    <g>
      <T x={54.3} y={1281.7} s={15.5}>Amyloid, tau-related pathways</T>
      <EnrichPlot frame={{ x0: 458.2, x1: 691.8, y0: 1292.7, y1: 1516 }} colRange={[468.6, 681]} rowRange={[1301.7, 1507.3]} labelX={448.3} rows={amyloidPathways} cols={cellTypes} dots={amyloidDots} color={color} rScale={r} tickEndY={1526} />
      <PADJ_TITLE x={54.3} y={1470.7} />
      <ColorBar id="fBar" x={55.2} w={17.9} top={1479.3} bottom={1569.3} scale={color} domainMax={0.0511} ticks={[0, 0.01, 0.02, 0.03, 0.04]} labelX={78.8} />
      <RatioLegend titleX={114.7} titleY={1511.3} dotX={119.9} labelX={132} items={[0.015, 0.025, 0.035]} ys={[1528.3, 1545.7, 1564.3]} rScale={r} digits={3} />
    </g>
  );
};

const PanelG = () => {
  const color = pAdjustColor(0.05);
  const r = d3.scaleLinear().domain([0.05, 0.15]).range([4.7, 6.7]);
  return (
    <g>
      <T x={54.3} y={1621.7} s={15.5}>Neurodegeneration, addiction-related pathways</T>
      <EnrichPlot frame={{ x0: 391.7, x1: 691.8, y0: 1639.3, y1: 1853.3 }} colRange={[404.9, 678.2]} rowRange={[1648, 1845]} labelX={382.3} rows={neuroPathways} cols={cellTypes} dots={neuroDots} color={color} rScale={r} labelSize={13.45} tickEndY={1863} />
      <PADJ_TITLE x={54.3} y={1789.3} />
      <ColorBar id="gBar" x={54.3} w={20.3} top={1797.3} bottom={1898} scale={color} domainMax={0.0456} ticks={[0, 0.01, 0.02, 0.03, 0.04]} labelX={79.3} />
      <RatioLegend titleX={120.3} titleY={1830} dotX={124.6} labelX={135.4} items={[0.05, 0.1, 0.15]} ys={[1852.7, 1873, 1893.3]} rScale={r} digits={2} />
    </g>
  );
};

// ---------- panel h ----------
const GreyMap = ({ x, y }: any) => (
  <g fill="#B9B9B9">
    {[mD1Outline, mD2Outline, pD1Outline, pD2Outline, ncD2Outline, centreOutline].map((o, i) => (
      <path key={i} d={blobPath(o.map((p) => [x(p[0]), y(p[1])]) as any)!} stroke="#B9B9B9" strokeWidth={1.2} />
    ))}
    {[pD2Sparse, ncD2Sparse, ncD1Sparse].map((pts, i) => (
      <g key={i}>
        {pts.map((p, k) => (
          <circle key={k} cx={x(p[0])} cy={y(p[1])} r={1} />
        ))}
      </g>
    ))}
  </g>
);

const HPlot = ({ title, sup, axisX, axisEnd, xRange, blob, points, color }: any) => {
  const x = d3.scaleLinear().domain([-10, 5]).range(xRange);
  const y = d3.scaleLinear().domain([-10, 10]).range([882.8, 758.8]);
  return (
    <g>
      <text x={(xRange[0] + xRange[1]) / 2 - 3} y={736.6} dy="0.35em" textAnchor="middle" fontSize={17.5} fill={INK}>
        {title}
        {sup}
      </text>
      <GreyMap x={x} y={y} />
      {blob ? <path d={blobPath(blob.map((p: number[]) => [x(p[0]), y(p[1])]))!} fill={color} fillOpacity={0.6} /> : null}
      <Sparse x={x} y={y} points={points} fill={color} r={1.05} />
      <line x1={axisX} x2={axisX} y1={743} y2={900} stroke="#333" strokeWidth={1.1} />
      <line x1={axisX} x2={axisEnd} y1={900} y2={900} stroke="#333" strokeWidth={1.1} />
      {hXTicks.map((t) => (
        <g key={t}>
          <line x1={x(t)} x2={x(t)} y1={900} y2={904} stroke="#333" />
          <T x={x(t)} y={919.2} a="middle" s={16}>{String(t).replace("-", "−")}</T>
        </g>
      ))}
      {hYTicks.map((t) => (
        <g key={t}>
          <line x1={axisX - 4} x2={axisX} y1={y(t)} y2={y(t)} stroke="#333" />
          <T x={axisX - 13} y={y(t)} a="end" s={16}>{String(t).replace("-", "−")}</T>
        </g>
      ))}
    </g>
  );
};

const PanelH = () => (
  <g>
    <HPlot title="DRD1 only" axisX={1027.8} axisEnd={1174.5} xRange={[1028.8, 1166.7]} blob={drd1Blob} points={drd1Points} color="#8A0A8A" />
    <HPlot title="DRD2 only" axisX={1205} axisEnd={1351.6} xRange={[1206.4, 1344.4]} blob={drd2Blob} points={drd2Points} color="#8F8F00" />
    <HPlot
      title=""
      sup={
        <>
          DRD1<tspan dy="-6" fontSize={11}>+</tspan>
          <tspan dy="6">DRD2</tspan>
          <tspan dy="-6" fontSize={11}>+</tspan>
        </>
      }
      axisX={1387.5}
      axisEnd={1534}
      xRange={[1388.9, 1526.4]}
      points={bothPoints}
      color="#1A8A96"
    />
    <T x={968.8} y={821} a="middle" s={16.5} rot={-90}>UMAP_2</T>
    <T x={1281} y={947} a="middle" s={16.5}>UMAP_1</T>
  </g>
);

// ---------- panel i ----------
const PanelI = () => {
  const color = pAdjustColor(0.05);
  const r = d3.scaleLinear().domain([0.1, 0.3]).range([6.3, 8.3]);
  const dots = diffDotsRaw.map((d) => [d[0], diffGroups[d[1]], d[2], d[3]]);
  return (
    <g>
      <T x={784} y={1016.7} s={15.5}>Top five differentially regulated pathways</T>
      <rect x={1113.4} y={1041.7} width={234.7} height={30} fill="#D0009C" />
      <rect x={1348.1} y={1041.7} width={153.9} height={30} fill="#2BDDFF" />
      <T x={1230.5} y={1056} a="middle" s={16}>Up-regulated</T>
      <T x={1425} y={1056} a="middle" s={16}>Down-regulated</T>
      <EnrichPlot frame={{ x0: 1112.9, x1: 1501.4, y0: 1073.3, y1: 1768 }} colRange={[1125.8, 1488.5]} rowRange={[1084.7, 1758]} labelX={1103} rows={diffPathways} cols={diffGroups} dots={dots} color={color} rScale={r} labelSize={13.15} tickSize={14} tickEndY={1777} />
      <line x1={1286.2} x2={1286.2} y1={1073.3} y2={1768} stroke="#888" strokeWidth={1} strokeDasharray="1.5 1.5" />
      <line x1={1349.2} x2={1349.2} y1={1073.3} y2={1768} stroke="#888" strokeWidth={1.5} />
      {[[1076.3, 1142.7], [1194, 1260], [1312.7, 1328.3], [1430, 1547.7]].map((b) => (
        <rect key={b[0]} x={736.2} y={b[0]} width={770.8} height={b[1] - b[0]} fill="none" stroke="#2255CC" strokeWidth={1.6} strokeDasharray="6 3" />
      ))}
      <RatioLegend titleX={749.6} titleY={1706.7} dotX={760} labelX={776.4} items={[0.1, 0.2, 0.3]} ys={[1724, 1745, 1765.7]} rScale={r} digits={1} />
      <PADJ_TITLE x={749.6} y={1803.3} />
      <ColorBar id="iBar" x={749.6} w={20.6} top={1812} bottom={1915.7} scale={color} domainMax={0.05} ticks={[0.01, 0.02, 0.03, 0.04]} labelX={776.4} />
    </g>
  );
};

export default function App() {
  return (
    <svg width={1539} height={1920} viewBox="0 0 1539 1920" style={{ position: "absolute", left: 0, top: 0, background: "#fff" }} fontFamily={FONT}>
      <PanelLetter x={4.6} y={23.7}>a</PanelLetter>
      <PanelLetter x={659.6} y={25}>b</PanelLetter>
      <PanelLetter x={804} y={414.8}>c</PanelLetter>
      <PanelLetter x={4.3} y={674.5}>d</PanelLetter>
      <PanelLetter x={4.3} y={1023.7}>e</PanelLetter>
      <PanelLetter x={5} y={1274}>f</PanelLetter>
      <PanelLetter x={5} y={1615}>g</PanelLetter>
      <PanelLetter x={959} y={726}>h</PanelLetter>
      <PanelLetter x={737} y={1024}>i</PanelLetter>
      <PanelA />
      <PanelB />
      <PanelC />
      <PanelD />
      <PanelE />
      <PanelF />
      <PanelG />
      <PanelH />
      <PanelI />
    </svg>
  );
}
